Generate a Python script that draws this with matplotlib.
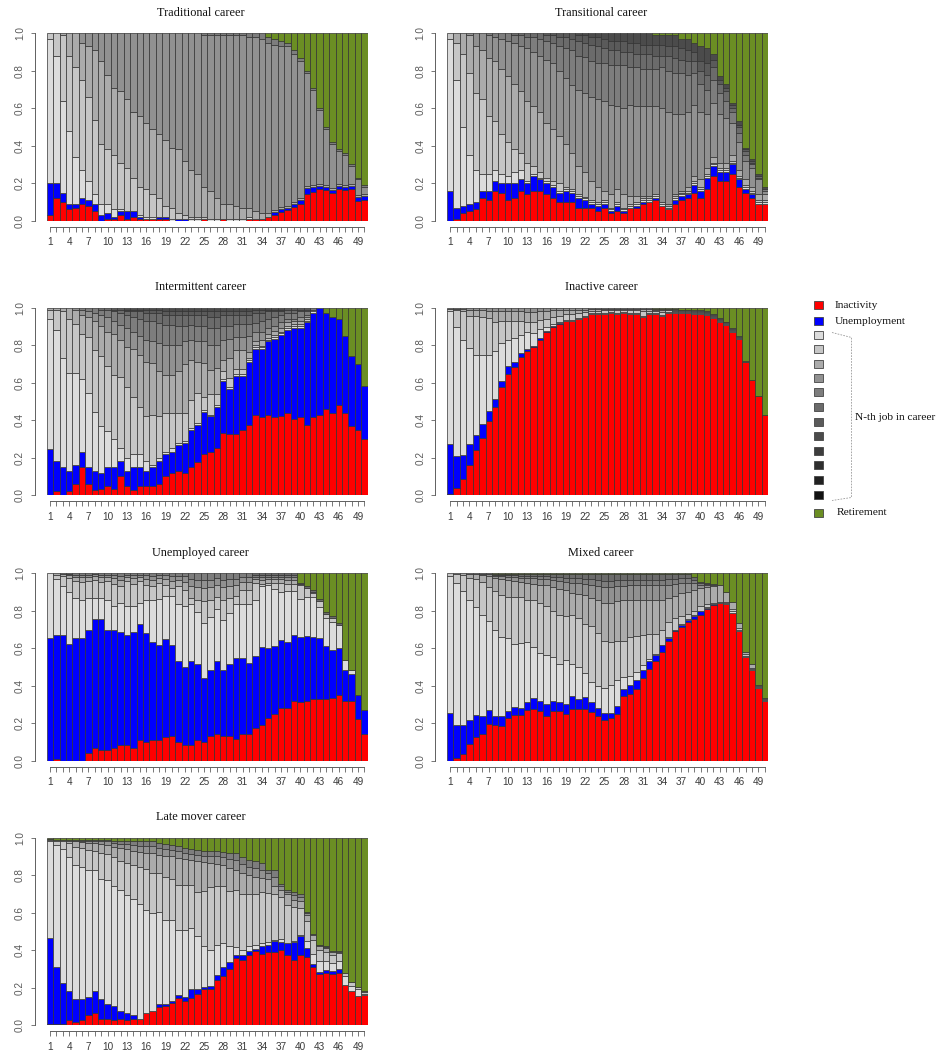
import numpy as np
import matplotlib
matplotlib.use("Agg")
import matplotlib.pyplot as plt
from matplotlib.patches import Rectangle
from matplotlib.lines import Line2D

# ---------------- data (percent of sequences in each state, per year 1..50) ----------------
YEARS = list(range(1, 51))
XTICK_LABELS = [str(y) if (y - 1) % 3 == 0 else "" for y in YEARS]
YTICKS = [0.0, 0.2, 0.4, 0.6, 0.8, 1.0]
YTICK_LABELS = ["0.0", "0.2", "0.4", "0.6", "0.8", "1.0"]

TITLES = ["Traditional career", "Transitional career", "Intermittent career",
          "Inactive career", "Unemployed career", "Mixed career", "Late mover career"]

LEGEND_LABELS = ["Inactivity", "Unemployment", "Retirement"]
BRACKET_LABEL = "N-th job in career"

# Traditional
TRAD_INACT = [3,12,10,6,7,9,8,5,0,1,1,3,1,2,1,1,1,1,1,0,0,0,0,0,1,0,0,1,0,0,0,1,1,1,2,3,4.5,5.5,7.5,9,14.5,15.5,17,16.5,15,17,16.5,17,10.5,11]
TRAD_UNEMP = [17,8,5,3,2,3,3,4,3,3,1,2,4,3,1,0,0,1,1,0,1,1,0,0,0,0,0,0,0,0,0,0,0,0,0,1.5,2,1.5,1.5,2,3,2.5,1.5,1.5,1.5,1.5,1.5,1.5,2,2]
TRAD_J1 = [77,68,49,39,25,15,10,5,6,5,4,1,0,0,1,1,1,0,0,1,0,0,1,1,0,1,1,0,1,1,1,1,0,0,0,0,0,0,0,0,0,0,0,0,0,0,0,0,0,0]
TRAD_J2 = [3,12,35,40,48,48,45,40,32,29,29,25,23,18,15,15,12,10,6,6,3,2,1,1,1,0,0,0,0,0,0,0,0,0,0,0,0,0,0,0,0,0,0,0,0,0,0,0,0,0]
TRAD_J3 = [0,0,1,12,18,20,27,37,44,40,36,38,37,35,38,35,35,34,35,32,34,29,25,23,16,15,11,8,8,7,6,5,4,3,2,1,1,1,1,1,1,1,1,1,1,1,1,1,1,1]
TRAD_J4 = [0,0,0,0,0,5,7,9,15,22,29,31,35,42,44,48,51,54,57,61,62,68,73,75,81,83,87,90,90,91,92,91,93,93,91,88.5,85.5,85,79,73,60.5,51,39.5,30,23.5,17.5,16,9.5,8.5,4]
TRAD_J5 = [0,0,0,0,0,0,0,0,0,0,0,0,0,0,0,0,0,0,0,0,0,0,0,0,1,1,1,1,1,1,1,2,2,3,3,3,3,2,2,2,1,1,1,1,1,1,1,1,1,1]
TRAD_RETIRE = [0,0,0,0,0,0,0,0,0,0,0,0,0,0,0,0,0,0,0,0,0,0,0,0,0,0,0,0,0,0,0,0,0,0,2,3,4,5,9,13,20,29,40,50,58,62,64,70,77,81]

# Transitional
TRANS_INACT = [0,1,4,5,6,12,11,16,15,11,12,16,14,16,16,14,12,10,10,10,7,7,7,5,7,4,5,4,7,7,9,10,11,8,6,9,11,12,15,12,17,24,21,21,25,18,15,12,9,9]
TRANS_UNEMP = [16,6,4,4,4,4,5,5,5,9,8,6,6,8,6,6,6,5,6,5,5,4,2,3,2,1,3,1,0,1,1,0,1,0,0,2,2,2,4,4,6,5,5,5,5,4,2,2,0,0]
TRANS_J1 = [81,68,42,26,17,9,9,6,5,4,6,5,1,1,1,1,1,1,1,1,1,1,1,1,1,1,1,1,1,1,1,1,1,1,1,1,1,1,1,1,1,1,1,1,1,1,1,1,1,1]
TRANS_J2 = [3,20,39,44,41,40,31,26,21,18,12,9,10,4,3,2,2,4,1,1,1,1,1,1,1,1,1,1,1,1,1,1,1,1,1,1,1,1,1,1,1,1,1,1,1,1,1,1,1,1]
TRANS_J3 = [0,5,11,20,25,26,31,32,35,35,35,33,33,32,32,29,28,25,23,20,15,13,10,8,5,7,7,7,4,3,1,1,0,0,1,1,1,2,3,4,3,3,3,3,3,3,3,2,3,3]
TRANS_J4 = [0,0,0,1,7,9,12,13,16,19,22,24,28,29,30,34,35,35,35,37,41,43,45,47,48,48,44,46,49,48,48,48,47,50,49,43,41,40,38,36,29,29,26,24,17,15,10,10,8,2]
TRANS_J5 = [0,0,0,0,0,0,1,2,3,4,4,6,6,8,9,10,11,13,16,19,18,19,19,19,20,21,22,23,20,21,20,20,20,22,22,22,22,20,17,15,13,12,11,9,6,5,3,2,1,1]
TRANS_J6 = [0,0,0,0,0,0,0,0,0,0,1,1,2,2,3,3,4,5,6,6,8,8,9,9,8,8,8,7,8,7,8,8,7,6,8,8,7,7,6,7,8,7,5,5,2,3,2,1,1,0]
TRANS_J7 = [0,0,0,0,0,0,0,0,0,0,0,0,0,0,0,1,1,2,2,3,3,4,4,5,5,5,5,6,5,6,5,5,6,6,5,6,6,6,5,5,6,4,2,2,2,1,1,1,0,0]
TRANS_J8 = [0,0,0,0,0,0,0,0,0,0,0,0,0,0,0,0,0,0,0,0,1,1,2,2,3,4,4,4,5,5,6,6,5,5,6,6,5,6,5,8,8,3,2,2,1,2,1,1,1,1]
TRANS_RETIRE = [0,0,0,0,0,0,0,0,0,0,0,0,0,0,0,0,0,0,0,0,0,0,0,0,0,0,0,0,0,0,0,0,1,1,1,1,3,3,5,7,8,11,23,27,37,47,61,67,75,82]

# Intermittent
INT_INACT = [0,2,0,2,6,15,6,3,3,5,3,10,5,3,5,5,5,6,10,12,13,12,15,18,22,23,25,33,33,33,35,38,43,41,43,43,43,45,41,42,38,42,43,46,44,48,44,37,35,30]
INT_UNEMP = [25,16,15,11,10,8,9,10,9,10,12,8,8,12,10,8,10,12,12,11,14,16,20,20,23,19,22,28,24,31,29,34,36,36,39,43,44,46,49,48,56,56,57,51,51,46,41,37,35,28]
INT_J1 = [70,70,59,53,50,39,40,32,25,19,15,7,7,7,7,5,1,2,1,2,1,1,1,1,1,1,1,1,1,1,1,1,1,1,1,1,1,1,1,1,1,1,0,0,0,0,0,0,0,0]
INT_J2 = [5,11,25,29,26,24,30,33,37,35,34,38,38,31,25,24,27,22,21,19,16,15,15,16,7,11,6,4,5,3,3,1,1,1,1,1,1,1,1,1,1,1,0,0,0,0,0,0,0,0]
INT_J3 = [1,1,2,6,8,10,11,16,16,18,22,20,22,26,28,29,28,24,20,20,22,26,21,17,18,13,14,6,11,10,10,3,2,3,2,2,2,2,2,2,1,0,0,0,0,0,0,0,0,0]
INT_J4 = [0,0,0,0,1,3,3,4,6,8,7,8,10,9,10,12,12,15,16,16,14,12,11,11,12,13,12,11,10,7,7,9,5,4,3,3,3,2,1,2,1,0,0,0,0,0,0,0,0,0]
INT_J5 = [0,0,0,0,0,1,2,3,3,4,5,6,7,8,9,10,11,11,11,11,10,8,8,8,8,9,9,7,7,7,7,6,5,6,5,5,4,3,3,3,2,1,0,0,0,0,0,0,0,0]
INT_J6 = [0,0,0,0,0,0,0,0,1,1,1,2,2,3,4,4,4,5,5,5,6,6,5,6,6,6,6,6,6,5,5,5,5,4,4,3,2,2,2,1,1,0,0,0,0,0,0,0,0,0]
INT_J7 = [0,0,0,0,0,0,0,0,0,0,1,1,1,1,1,2,2,2,2,2,2,2,2,2,2,3,3,2,2,2,2,2,2,2,1,1,1,1,1,1,1,0,0,0,0,0,0,0,0,0]
INT_J8 = [0,0,0,0,0,0,0,0,0,0,0,0,1,1,1,1,1,1,2,2,2,2,2,2,2,2,2,2,2,2,2,2,1,1,1,1,1,0,0,0,0,0,0,0,0,0,0,0,0,0]
INT_RETIRE = [0,0,0,0,0,0,0,0,0,0,0,0,0,0,0,0,0,0,0,0,0,0,0,0,0,0,0,0,0,0,0,0,0,0,0,0,0,0,0,0,0,0,0,3,5,6,15,26,30,42]

# Inactive
INA_INACT = [0.5,4,8.5,16,24,30.5,39.5,47,57.5,64.5,68.5,73.5,77,79.5,83,87.5,90,92,93,93,94.5,95,96.5,96.5,97,97.5,97,97.5,97,97,95.5,96.5,96.5,96,97.5,97,98,98,97.5,97,97,96.5,94,92,88,84,71,61.5,52.5,42.5]
INA_UNEMP = [27,17,13,11.5,8,7.5,5.5,4.5,3.5,4.5,2.5,2.5,1,0.5,1,0.5,0.5,0.5,0,0,0,0,0,0,0,0,0,0,0,0,0,0,0,0,0,0,0,0,0,0,0,0,0,0,0,0,0,0,0,0]
INA_J1 = [71,69,61.5,51,42.5,36.5,29.5,25.5,20,14,13,9.5,9,7,5,2,1,0.5,0.5,0.5,0.5,0.5,0.5,0.5,0.5,0.5,0.5,0.5,0.5,0.5,0.5,0.5,0.5,0.5,0.5,0.5,0.5,0.5,0.5,0.5,0.5,0.5,0.5,0.5,0.5,0,0,0,0,0]
INA_J2 = [1,9.5,15,17,21,20.5,20,15.5,12,10,9,7.5,5.5,6,5,4.5,4,3,3,3,2.5,2,1.5,1.5,1.5,1,1.5,1,1.5,1.5,2.5,1.5,1,1.5,1,1,0.5,0.5,0.5,0.5,0.5,0.5,0.5,0.5,0.5,0.5,0,0,0,0]
INA_J3 = [0.5,0.5,1.5,3.5,3.5,4,4,6,5.5,5.5,5,5,5,5,4.5,4,3.5,3,2.5,2.5,2,1.5,1,1,1,1,1,1,1,1,1.5,1,1,1.5,0.5,0.5,0.5,0.5,0.5,0.5,0.5,0.5,0.5,0.5,0.5,0.5,0.3,0,0,0]
INA_J4 = [0,0.5,0.5,1,1,1,1.5,1.5,1.5,1.5,2,2,2.5,2.5,2,2,1.5,1.5,1,1,1,1,0.5,0.5,0.5,0.5,0.5,0.5,0.5,0.5,0.5,0.5,0.5,0.5,0.5,0.5,0.5,0.5,0.5,0.5,0.5,0.5,0.5,0.5,0.5,0.5,0.5,0,0,0]
INA_RETIRE = [0,0,0,0,0,0,0,0,0,0,0,0,0,0,0,0,0,0,0,0,0,0,0,0,0,0,0,0,0,0,0,0,0.5,0.5,0.5,0.5,1,1,1.5,1.5,2,3.5,5.5,7.5,11,15.5,28.5,38.5,47,57.5]

# Unemployed
UNE_INACT = [0,1,0,0,0,0,4,7,5.5,5.5,7,8.5,8.5,7,11,10,11,11,12.5,13,10,8.5,8.5,11,10,13,14.5,13,13,11.5,14.5,14.5,17.5,19.5,23,25,28.5,28.5,32,31.5,32,33,33.5,33.5,34,35.5,32,32,22,14.5]
UNE_UNEMP = [65.5,66,67,62.5,65.5,65.5,66,68.5,70,64.5,63,60,58.5,61.5,62,58,52.5,51,52.5,48.5,43,41.5,44.5,40.5,34,35.5,38.5,35.5,38.5,43.5,40.5,37.5,39,42,38,37,36.5,35.5,35.5,35,35,33.5,32.5,28.5,25.5,25,16.5,14,13,12.5]
UNE_J1 = [34.5,30,26,27.5,21.5,20.5,17,11.5,11.5,15.5,12.5,15.5,15.5,14,11,17.5,22,24.5,23,26.5,30.5,32.5,30.5,28,29.5,28,28,26.5,27.5,28.5,28.5,31.5,30,32.5,33.5,30.5,26,27.5,24,20.5,21,21.5,17,15,15,12.5,5,2.5,0,0]
UNE_J2 = [0,2,5.5,7.5,9,9.5,9,9.5,8.5,10.5,12,9,13.5,12,12,8.5,7.5,8.5,6,4,9.5,8.5,3.5,6.5,11.5,9.5,6.5,11,8,4.5,7.5,7.5,9.5,1.5,1.5,3.5,5,4,3.5,7.5,5,2.5,3,2,2.5,0,0,0,0,0]
UNE_J3 = [0,1,1,1.5,2,2.5,2,2,2.5,2,3,3.5,2,3,2,3,3.5,2.5,3,4,3.5,4.5,6,6.5,7,6.5,6,6.5,6,5.5,4.5,4.5,2,2,2,2,2,2,2.5,0.5,0,0.5,0,0,0,0,0,0,0,0]
UNE_J4 = [0,0,0.5,0.5,1,1.2,1.2,1,1.2,1.2,1.5,2,1.2,1.5,1.2,2,2,1.5,2,2.5,2,3,4,4,4.5,4,4,4,4,3.5,2.5,2.5,1.2,1.5,1.2,1.2,1.2,1.5,1.5,0,0,0,0,0,0,0,0,0,0,0]
UNE_J5 = [0,0,0,0.5,1,0.8,0.8,0.5,0.8,0.8,1,1.5,0.8,1,0.8,1,1.5,1,1,1.5,1.5,1.5,3,3.5,3.5,3.5,2.5,3.5,3,3,2,2,0.8,1,0.8,0.8,0.8,1,1,0,0,0,0,0,0,0,0,0,0,0]
UNE_J6 = [0,0,0,0,0,0,0,0,0,0,0,0,0,0,0,0,0,0,0,0,0,0,0,0,0,0,0,0,0,0,0,0,1,1,1,1,1,1,1,1,1,1,1,1,1,1,0,0,0,0]
UNE_RETIRE = [0,0,0,0,0,0,0,0,0,0,0,0,0,0,0,0,0,0,0,0,0,0,0,0,0,0,0,0,0,0,0,0,0,0,0,0,0,0,0,5,7,9,14,21,23,27,46.5,51.5,65,73]

# Mixed
MIX_INACT = [0,1.5,3.5,9,12.5,14.5,19.5,19,18.5,23,24.5,24.5,27,27.5,26.5,24,26.5,26.5,25,27.5,27.5,27.5,26,24,21.5,23,25,34.5,35.5,38,44,49,53,58,64,69,71.5,74,75.5,78,81,83,84,83.5,79,69,55.5,48.5,39,32]
MIX_UNEMP = [25.5,17.5,15.5,12.5,12,9.5,7.5,5,5.5,3.5,4,3.5,4.5,6,5.5,6.5,5.5,5,5.5,7,5.5,6.5,5.5,4,4,2.5,4,4,5,5,4.5,4,3.5,3.5,1.5,1,1,1,1.5,2,0.5,0.5,0,0,0,0,0,0,0,0]
MIX_J1 = [73,76,71.5,64,57.5,53.5,47.5,46,42,39,34,35,32,27,25.5,26,23.5,20,23,17,17,13,10.5,12,13.5,15,14,6,4.5,4.5,2.5,1.5,0.5,0.5,0.5,0,0.5,0.5,1,0,0.5,0,0,0.5,1,1,0.5,0.5,0.5,0.5]
MIX_J2 = [1.5,4.5,8.5,12,15,18,18,20.5,22.5,22,25,24.5,22.5,25,26.5,26,24.5,26.5,23.5,26.5,26,26,30,28,25,23,21,19.5,21,19,16,13,10.5,8,8,6,4,3,2,2.5,1.5,0.5,0.5,0.5,1,1,1,0.5,0.5,0.5]
MIX_J3 = [0,0.5,1,2,2.5,3.5,6,7,8.5,9,8.5,8,9,9,10,11,12.5,13.5,14,11.5,13,15.5,15,17.5,20,20.5,21,21.5,20,19.5,19,18.5,18.5,16,13,12,12.5,11.5,11,9.5,9,9,9,5.5,3.5,2.5,1,2,0.5,0.5]
MIX_J4 = [0,0,0,0.5,0.5,0.5,1,1,1.5,1.5,2,2,2.5,3,3,3.5,4,4.5,4.5,5.5,6,6,7,7.5,8.5,8.5,8,7.5,7.5,7.5,7.5,7.5,7.5,7.5,7,6.5,5.5,5,4,2,1.5,1,0,0,0,0,0,0,0,0]
MIX_J5 = [0,0,0,0,0,0.5,0.5,0.5,0.5,1,1,1,1,1,1.5,1.5,1.5,2,2,2.5,2.5,2.5,3,3.5,3.5,3.5,3.5,3.5,3,3,3,3,3,3,3,2.5,2.5,2.5,1.5,1,0.5,0.5,0,0,0,0,0,0,0,0]
MIX_J6 = [0,0,0,0,0,0,0,0.5,0.5,0.5,0.5,1,1,1,1,1,1.5,1.5,2,2,2,2.5,2.5,3,3.5,3.5,3,3,3,3,3,3,3,3,2.5,2.5,2,2,1.5,0.5,0.5,0,0,0,0,0,0,0,0,0]
MIX_RETIRE = [0,0,0,0,0,0,0,0.5,0.5,0.5,0.5,0.5,0.5,0.5,0.5,0.5,0.5,0.5,0.5,0.5,0.5,0.5,0.5,0.5,0.5,0.5,0.5,0.5,0.5,0.5,0.5,0.5,0.5,0.5,0.5,0.5,0.5,0.5,2,4.5,5,5.5,6.5,10,15.5,26.5,42,48.5,59.5,66.5]

# Late mover
LATE_INACT = [0.5,0.5,0.5,2.5,1.5,2.5,5.5,6.5,3.5,3.5,2.5,3.5,2.5,3.5,3.5,6.5,7.5,9.5,10,12,14.5,13,14.5,16.5,19,19,24,26,30,36,34.5,37.5,39.5,38,39,39,40,37.5,34.5,37.5,36.5,31,27.5,28,27.5,28,21.5,18,15.5,16]
LATE_UNEMP = [46,30.5,22,15.5,12.5,11.5,9.5,11.5,10.5,7.5,7.5,4,4,2,0,0,0,1.5,1,1,1.5,2,5,3,1.5,2,2.5,5,3.5,1.5,3,2,1,4,4,6,4.5,6.5,10,10,4.5,1.5,1,1.5,1.5,2,0,0,0,0]
LATE_J1 = [51.5,65,71.5,71.5,71.5,70.5,67.5,64.5,64,66.5,64,64.5,63,62,61,55,52.5,49.5,45,43,35,36,32.5,28,21.5,19,16.5,13,8.5,4,2.5,2.5,2.5,2,1.5,0.5,1.5,0,0.5,0.5,4,5.5,5.5,4.5,4,4,4.5,3,3.5,0.5]
LATE_J2 = [1,2.5,4.5,7.5,9.5,10,11,10.5,14,14,15.5,15.5,17,18,20,22,21,20.5,23,22,24,24,22.5,23.5,29.5,33.5,31,30,29.5,30.5,30,28,27,27,26,24.5,22.5,20,18,14.5,10.5,7.5,6,5,4.5,4.5,2,2,1.5,1]
LATE_J3 = [0.5,0.5,0.5,1.5,3,3,3.5,4,4.5,4.5,5.5,7,7.5,7.5,8,8.5,11,10,11.5,12,14,13.5,13.5,16.5,15.5,13,12,11.5,12.5,11,11,10,9,7.5,7.5,4,3.5,6,4,3.5,3.5,2.5,2,2,1.5,0.5,0,0,0,0.5]
LATE_J4 = [0,0,0,0.5,0.5,1,1,1,1.5,2,2,2,2.5,3,3,3.5,3.5,3.5,3.5,3.5,4,3.5,3.5,3.5,3.5,4,4,4,4.5,5,5,4.5,5,4.5,3,5,2,1,2.5,2.5,1,0.5,0.5,0.5,0.5,0.5,0,0,0,0]
LATE_J5 = [0,0,0,0,0.5,0.5,1,1,1,1,1.5,1.5,1.5,2,2.5,2.5,2.5,2.5,2.5,2.5,2.5,2.5,2.5,2.5,2.5,2.5,3,3,3.5,4,3.5,3.5,3.5,3.5,2,3.5,1.5,1,1.5,1.5,0.5,0,0.5,0.5,0,0,0,0,0,0]
LATE_RETIRE = [0.5,1,1,1,1,1,1,1,1,1,1.5,2,2,2,2,2,2,3,3.5,4,4.5,5.5,6,6.5,7,7,7,7.5,8,8,10.5,12,12.5,13.5,17,17.5,24.5,28,29,30,39.5,51.5,57,58,60.5,60.5,72,77,79.5,82]

# ---------------- styling ----------------
COL_INACT = "#FF0000"
COL_UNEMP = "#0000FF"
COL_RETIRE = "#6B8E23"
GREYS = ["#DCDCDC", "#C6C6C6", "#ABABAB", "#919191", "#7D7D7D", "#6B6B6B",
         "#5A5A5A", "#4B4B4B", "#3D3D3D", "#2F2F2F", "#212121", "#121212"]
EDGE = "#333333"
AXCOL = "#606060"
SERIF = ["Liberation Serif", "DejaVu Serif"]
SANS = ["Liberation Sans", "DejaVu Sans"]

PANELS = [
    (TITLES[0], TRAD_INACT, TRAD_UNEMP, [TRAD_J1, TRAD_J2, TRAD_J3, TRAD_J4, TRAD_J5], TRAD_RETIRE),
    (TITLES[1], TRANS_INACT, TRANS_UNEMP, [TRANS_J1, TRANS_J2, TRANS_J3, TRANS_J4, TRANS_J5, TRANS_J6, TRANS_J7, TRANS_J8], TRANS_RETIRE),
    (TITLES[2], INT_INACT, INT_UNEMP, [INT_J1, INT_J2, INT_J3, INT_J4, INT_J5, INT_J6, INT_J7, INT_J8], INT_RETIRE),
    (TITLES[3], INA_INACT, INA_UNEMP, [INA_J1, INA_J2, INA_J3, INA_J4], INA_RETIRE),
    (TITLES[4], UNE_INACT, UNE_UNEMP, [UNE_J1, UNE_J2, UNE_J3, UNE_J4, UNE_J5, UNE_J6], UNE_RETIRE),
    (TITLES[5], MIX_INACT, MIX_UNEMP, [MIX_J1, MIX_J2, MIX_J3, MIX_J4, MIX_J5, MIX_J6], MIX_RETIRE),
    (TITLES[6], LATE_INACT, LATE_UNEMP, [LATE_J1, LATE_J2, LATE_J3, LATE_J4, LATE_J5], LATE_RETIRE),
]

W, H = 944, 1055
fig = plt.figure(figsize=(W / 100, H / 100), dpi=100)
fig.patch.set_facecolor("white")

COL_LEFT = [46.7, 447.0]
ROW_TOP = [33.3, 307.7, 573.3, 837.7]
PW, PH = 321.0, 187.4

x = np.array(YEARS, dtype=float)
for idx, (title, inact, unemp, jobs, retire) in enumerate(PANELS):
    r, c = divmod(idx, 2)
    ax = fig.add_axes([COL_LEFT[c] / W, 1 - (ROW_TOP[r] + PH) / H, PW / W, PH / H])
    layers = [(inact, COL_INACT), (unemp, COL_UNEMP)]
    layers += [(j, GREYS[k]) for k, j in enumerate(jobs)]
    layers += [(retire, COL_RETIRE)]
    arr = np.array([np.asarray(v, dtype=float) for v, _ in layers])
    arr = arr / arr.sum(axis=0, keepdims=True)
    bottom = np.zeros(len(x))
    for (vals, col), h in zip(layers, arr):
        m = h > 1e-9
        ax.bar(x[m], h[m], bottom=bottom[m], width=1.0, color=col,
               edgecolor=EDGE, linewidth=0.5, align="center")
        bottom += h
    ax.set_xlim(0.5, 50.5)
    ax.set_ylim(0, 1)
    for s in ("top", "right"):
        ax.spines[s].set_visible(False)
    ax.spines["left"].set_position(("outward", 8.4))
    ax.spines["left"].set_bounds(0, 1)
    ax.spines["bottom"].set_position(("outward", 4.3))
    ax.spines["bottom"].set_bounds(1, 50)
    for s in ("left", "bottom"):
        ax.spines[s].set_color(AXCOL)
        ax.spines[s].set_linewidth(0.7)
    ax.set_xticks(YEARS)
    ax.set_xticklabels(XTICK_LABELS, fontfamily=SANS, fontsize=7.2, color="#3a3a3a")
    ax.set_yticks(YTICKS)
    ax.set_yticklabels(YTICK_LABELS, rotation=90, va="center", fontfamily=SANS,
                       fontsize=7.2, color="#5a5a5a")
    ax.tick_params(axis="x", length=3.4, width=0.6, color=AXCOL, pad=4.2)
    ax.tick_params(axis="y", length=3.0, width=0.6, color=AXCOL, pad=4.3)
    ax.text(0.48, 1 + 20.5 / PH, title, transform=ax.transAxes, ha="center", va="center",
            fontfamily=SERIF, fontsize=8.8, color="#111111")

# ---------------- legend (figure pixel coordinates) ----------------
lax = fig.add_axes([0, 0, 1, 1])
lax.set_xlim(0, W)
lax.set_ylim(H, 0)
lax.axis("off")

leg_colors = [COL_INACT, COL_UNEMP] + GREYS + [COL_RETIRE]
leg_y = [305.3, 321.3, 334.7, 349.3, 363.7, 378, 392, 407, 422, 436.3, 451.3, 465.3, 480.3, 494.7, 512.5]
for col, yc in zip(leg_colors, leg_y):
    lax.add_patch(Rectangle((813.5, yc - 4.0), 9.5, 8.0, facecolor=col, edgecolor="#444444", linewidth=0.6))
lax.text(834.5, leg_y[0], LEGEND_LABELS[0], fontfamily=SERIF, fontsize=8.2, va="center", ha="left", color="#111111")
lax.text(834.5, leg_y[1], LEGEND_LABELS[1], fontfamily=SERIF, fontsize=8.2, va="center", ha="left", color="#111111")
lax.text(836.5, leg_y[-1], LEGEND_LABELS[2], fontfamily=SERIF, fontsize=8.2, va="center", ha="left", color="#111111")
lax.add_line(Line2D([832, 851.5, 851.5, 832], [332.5, 337.5, 497.5, 500.5],
                    color="#999999", linewidth=0.6, linestyle=(0, (2, 1.5))))
lax.text(855, 418, BRACKET_LABEL, fontfamily=SERIF, fontsize=8.2, va="center", ha="left", color="#111111")

fig.savefig("out.png", dpi=100, facecolor="white")
